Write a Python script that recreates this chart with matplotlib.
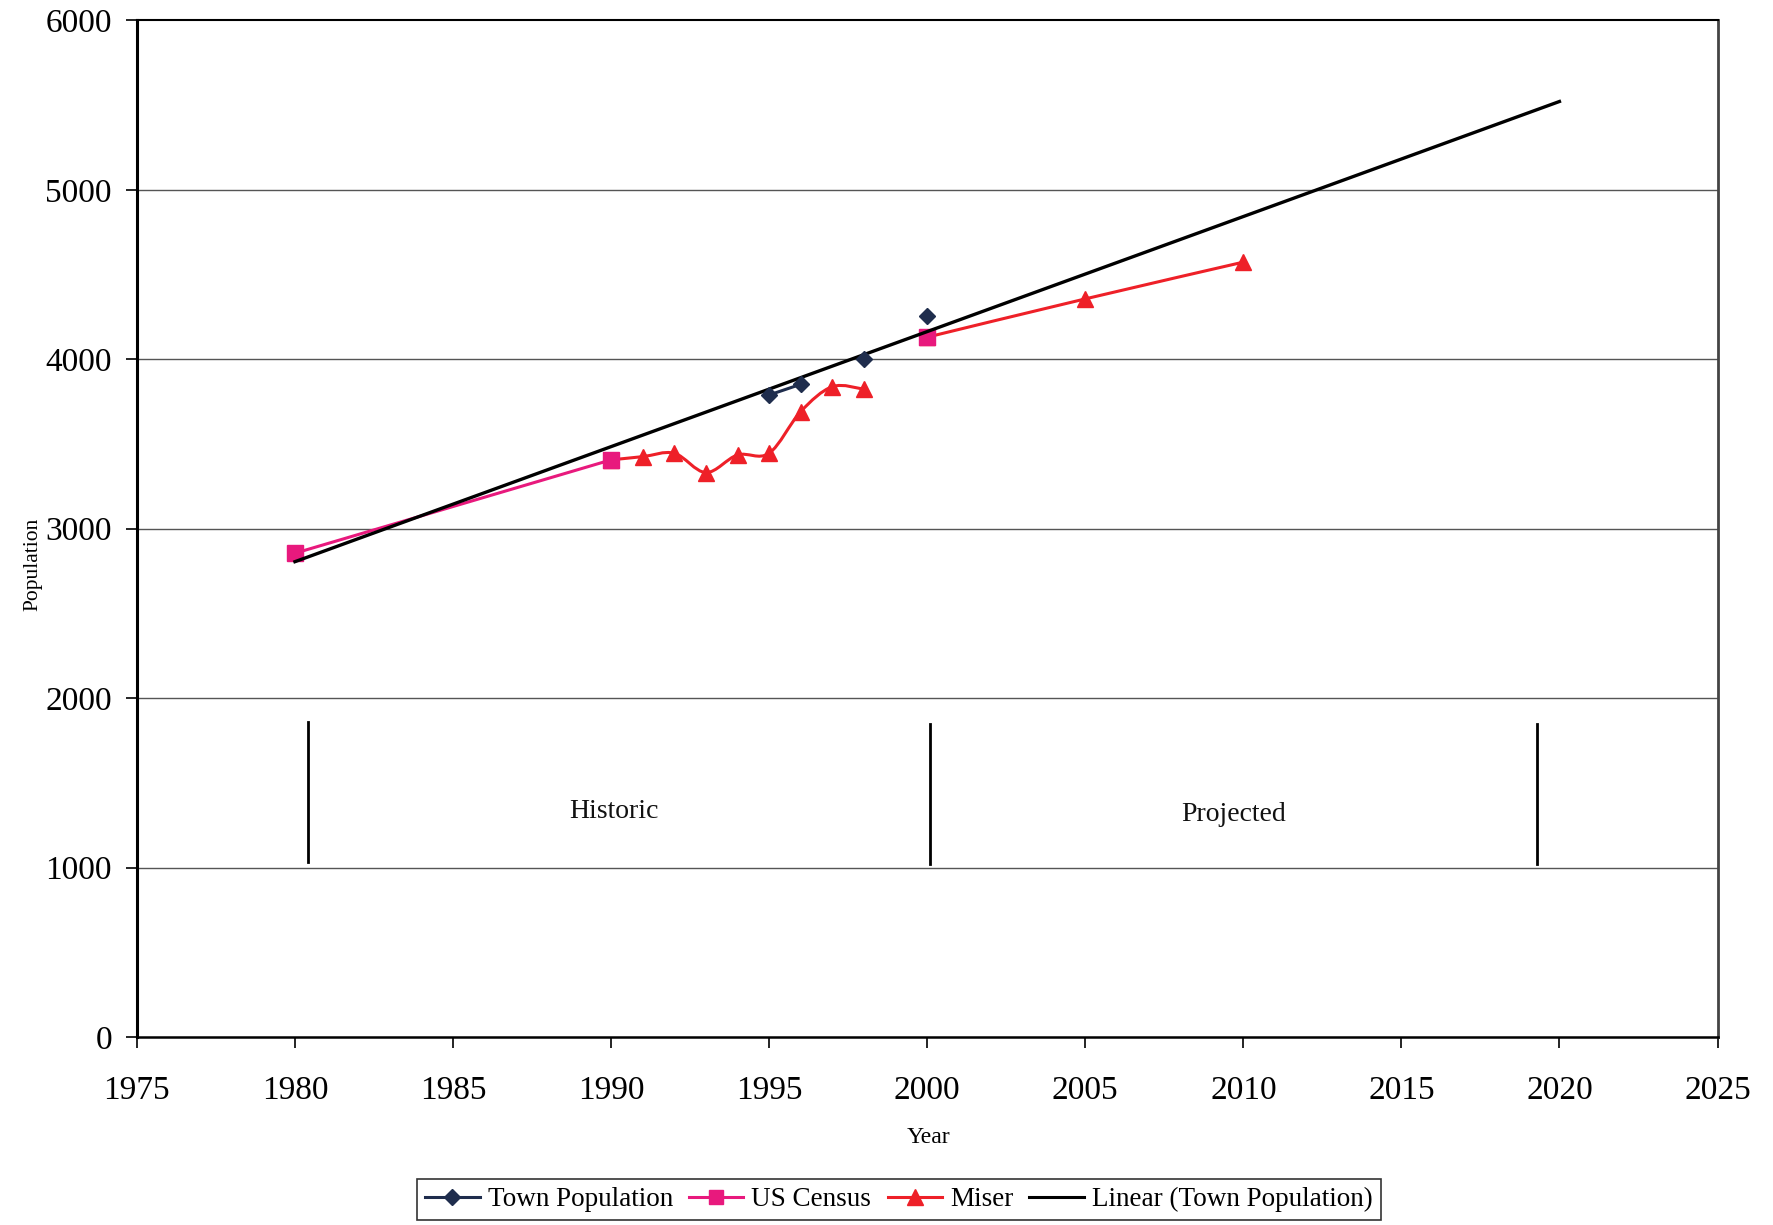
import numpy as np
import matplotlib.pyplot as plt
from matplotlib.path import Path
from matplotlib.patches import PathPatch
from matplotlib.lines import Line2D

# population data read from the town records, census and Miser projection
town_years = [1995, 1996, 1998, 2000]
town_pop = [3789, 3852, 4002, 4257]

census_years = [1980, 1990, 2000]
census_pop = [2855, 3406, 4130]

miser_years = [1990, 1991, 1992, 1993, 1994, 1995, 1996, 1997, 1998]
miser_pop = [3406, 3425, 3445, 3331, 3435, 3445, 3691, 3838, 3823]
miser_proj_years = [2000, 2005, 2010]
miser_proj_pop = [4130, 4356, 4573]

# linear trend of town population (end points)
trend_years = [1980, 2020]
trend_pop = [2805, 5521]

# historic / projected period markers
divider_years = [1980.4, 2000.1, 2019.3]
divider_lo = [1035, 1021, 1021]
divider_hi = [1856, 1850, 1850]
period_labels = ['Historic', 'Projected']
period_x = [1990.1, 2009.7]
period_y = [1328, 1315]

C = ['#1f2d4d', '#e8197d', '#ee2028', 'black']
serif = 'Liberation Serif'
plt.rcParams['font.family'] = serif


def smooth_path(x, y):
    # cubic bezier through the points, like a spreadsheet "smoothed line"
    x = np.asarray(x, float)
    y = np.asarray(y, float)
    n = len(x)
    verts = [(x[0], y[0])]
    codes = [Path.MOVETO]
    for i in range(n - 1):
        i0 = max(i - 1, 0)
        i3 = min(i + 2, n - 1)
        c1 = (x[i] + (x[i + 1] - x[i0]) / 6, y[i] + (y[i + 1] - y[i0]) / 6)
        c2 = (x[i + 1] - (x[i3] - x[i]) / 6, y[i + 1] - (y[i3] - y[i]) / 6)
        verts += [c1, c2, (x[i + 1], y[i + 1])]
        codes += [Path.CURVE4] * 3
    return Path(verts, codes)


fig = plt.figure(figsize=(17.73, 12.25), dpi=100)
ax = fig.add_axes([0.0772, 0.1535, 0.8915, 0.8299])

ax.set_xlim(1975, 2025)
ax.set_ylim(0, 6000)
ax.set_xticks(np.arange(1975, 2026, 5))
ax.set_yticks(np.arange(0, 6001, 1000))
for y in range(1000, 6000, 1000):
    ax.axhline(y, color='#555555', lw=1.0, zorder=1)

# Miser (smoothed), no value for 1999 so the two pieces stay apart
for xs, ys in [(miser_years, miser_pop), (miser_proj_years, miser_proj_pop)]:
    ax.add_patch(PathPatch(smooth_path(xs, ys), fill=False, ec=C[2], lw=2.2, zorder=3))
    ax.plot(xs, ys, ls='none', marker='^', ms=12, color=C[2], zorder=4)

# US Census: only the 1980-1990 stretch is joined
ax.plot(census_years[:2], census_pop[:2], color=C[1], lw=2.2, marker='s', ms=11.5, zorder=5)
ax.plot(census_years[2:], census_pop[2:], ls='none', color=C[1], marker='s', ms=11.5, zorder=5)

# linear trend
ax.plot(trend_years, trend_pop, color=C[3], lw=2.4, zorder=6)

# Town population (1997 and 1999 missing, so only 1995-1996 joined)
ax.plot(town_years[:2], town_pop[:2], color=C[0], lw=2.2, marker='D', ms=8, zorder=7)
ax.plot(town_years[2:], town_pop[2:], ls='none', color=C[0], marker='D', ms=8, zorder=7)

for xd, lo, hi in zip(divider_years, divider_lo, divider_hi):
    ax.plot([xd, xd], [lo, hi], color='black', lw=2)
for lab, xl, yl in zip(period_labels, period_x, period_y):
    ax.text(xl, yl, lab, ha='center', va='center', fontsize=20, color='#111111')

for s in ['left', 'bottom', 'top']:
    ax.spines[s].set_color('black')
ax.spines['left'].set_linewidth(2.2)
ax.spines['bottom'].set_linewidth(1.8)
ax.spines['top'].set_linewidth(1.5)
ax.spines['right'].set_color('#444444')
ax.spines['right'].set_linewidth(2.0)

ax.tick_params(axis='x', direction='out', length=8, width=1.2, pad=20, labelsize=24)
ax.tick_params(axis='y', direction='out', length=8, width=1.2, pad=10, labelsize=24)

fig.text(0.0185, 0.539, 'Population', rotation=90, ha='center', va='center', fontsize=15.5)
fig.text(0.5235, 0.0715, 'Year', ha='center', va='center', fontsize=17)

handles = [
    Line2D([], [], color=C[0], lw=2.2, marker='D', ms=8),
    Line2D([], [], color=C[1], lw=2.2, marker='s', ms=10),
    Line2D([], [], color=C[2], lw=2.2, marker='^', ms=11),
    Line2D([], [], color=C[3], lw=2.2),
]
leg = fig.legend(handles, ['Town Population', 'US Census', 'Miser', 'Linear (Town Population)'],
                 loc='center', bbox_to_anchor=(0.507, 0.0207), ncol=4, fontsize=19.5,
                 frameon=True, fancybox=False, edgecolor='black', handlelength=2.0,
                 handletextpad=0.3, columnspacing=0.6, borderpad=0.3)
leg.get_frame().set_linewidth(1.2)

plt.savefig('out.png', dpi=100)
plt.close()
